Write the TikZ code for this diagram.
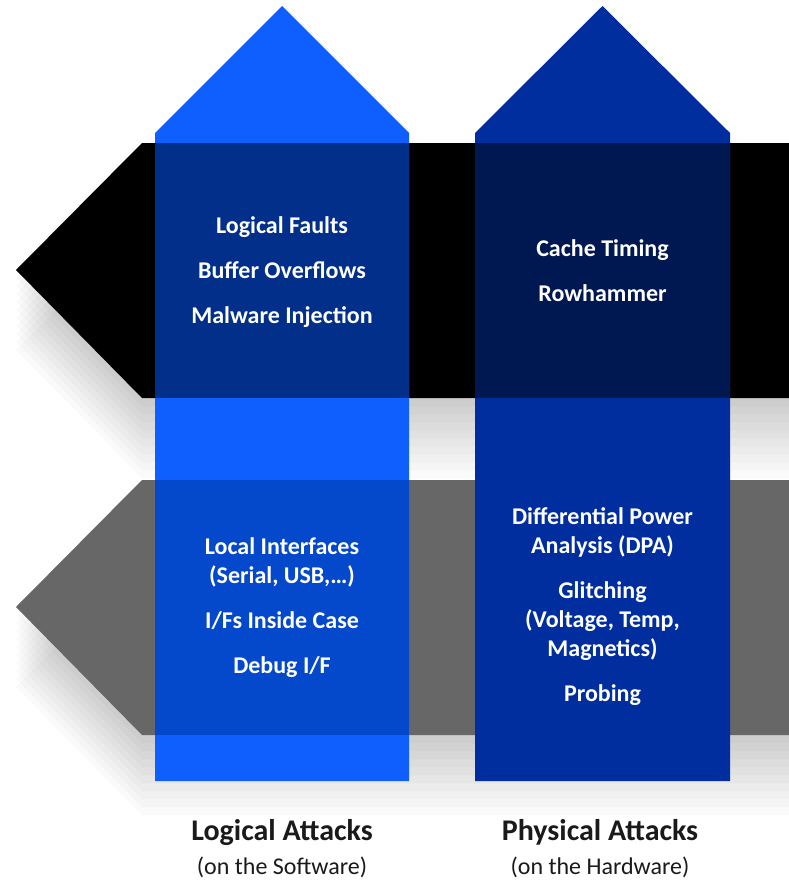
\documentclass[tikz,border=0pt]{standalone}
\usepackage{fontspec}
\setmainfont{Carlito}

\definecolor{logicblue}{HTML}{0F5FFF}
\definecolor{logicdark}{HTML}{022F8A}
\definecolor{logicmid}{HTML}{0448CC}
\definecolor{physblue}{HTML}{012E9E}
\definecolor{physdark}{HTML}{001852}
\definecolor{bandgrey}{HTML}{676767}
\definecolor{labelink}{HTML}{1A1A1A}

\begin{document}
\begin{tikzpicture}[
        x=1pt,
        y=-1pt,
        attack/.style={text=white, align=center, inner sep=0pt,
            font=\bfseries\fontsize{24}{29}\selectfont},
        heading/.style={anchor=base, text=labelink, font=\bfseries\fontsize{30}{34}\selectfont},
        subheading/.style={anchor=base, text=labelink, font=\fontsize{24}{28}\selectfont}
    ]
        \useasboundingbox[fill=white] (0,0) rectangle (789,880);

        % soft shadows under the bands
        \foreach \t in {143,480} {
            \foreach \k in {1,...,10} {
                \fill[black, opacity=0.02, shift={(0,\k*8)}]
                    (16,\t+127) -- (142,\t) -- (789,\t) -- (789,\t+255) -- (142,\t+255) -- cycle;
            }
        }

        % horizontal bands
        \fill[black] (16,270) -- (142,143) -- (789,143) -- (789,398) -- (142,398) -- cycle;
        \fill[bandgrey] (16,607) -- (142,480) -- (789,480) -- (789,735) -- (142,735) -- cycle;

        % vertical arrows
        \fill[logicblue] (155,781) -- (155,133) -- (282,6) -- (409,133) -- (409,781) -- cycle;
        \fill[physblue] (475,781) -- (475,133) -- (602.5,6) -- (730,133) -- (730,781) -- cycle;

        % crossings
        \fill[logicdark] (155,143) rectangle (409,398);
        \fill[logicmid] (155,480) rectangle (409,735);
        \fill[physdark] (475,143) rectangle (730,398);
        \fill[physblue] (475,480) rectangle (730,735);

        % attack lists
        \node[attack] (logicsw) at (282,272) {Logical Faults\\[16pt]Buffer Overflows\\[16pt]Malware Injection};
        \node[attack] (physsw) at (602.5,271) {Cache Timing\\[16pt]Rowhammer};
        \node[attack] (logichw) at (282,608) {Local Interfaces\\(Serial, USB,…)\\[16pt]I/Fs Inside Case\\[16pt]Debug I/F};
        \node[attack] (physhw) at (602.5,607) {Differential Power\\Analysis (DPA)\\[16pt]Glitching\\(Voltage, Temp,\\Magnetics)\\[16pt]Probing};

        % captions
        \node[heading] (logictitle) at (282,840) {Logical Attacks};
        \node[subheading] (logicsub) at (282,874) {(on the Software)};
        \node[heading] (phystitle) at (600,840) {Physical Attacks};
        \node[subheading] (physsub) at (600,874) {(on the Hardware)};
    \end{tikzpicture}
\end{document}
